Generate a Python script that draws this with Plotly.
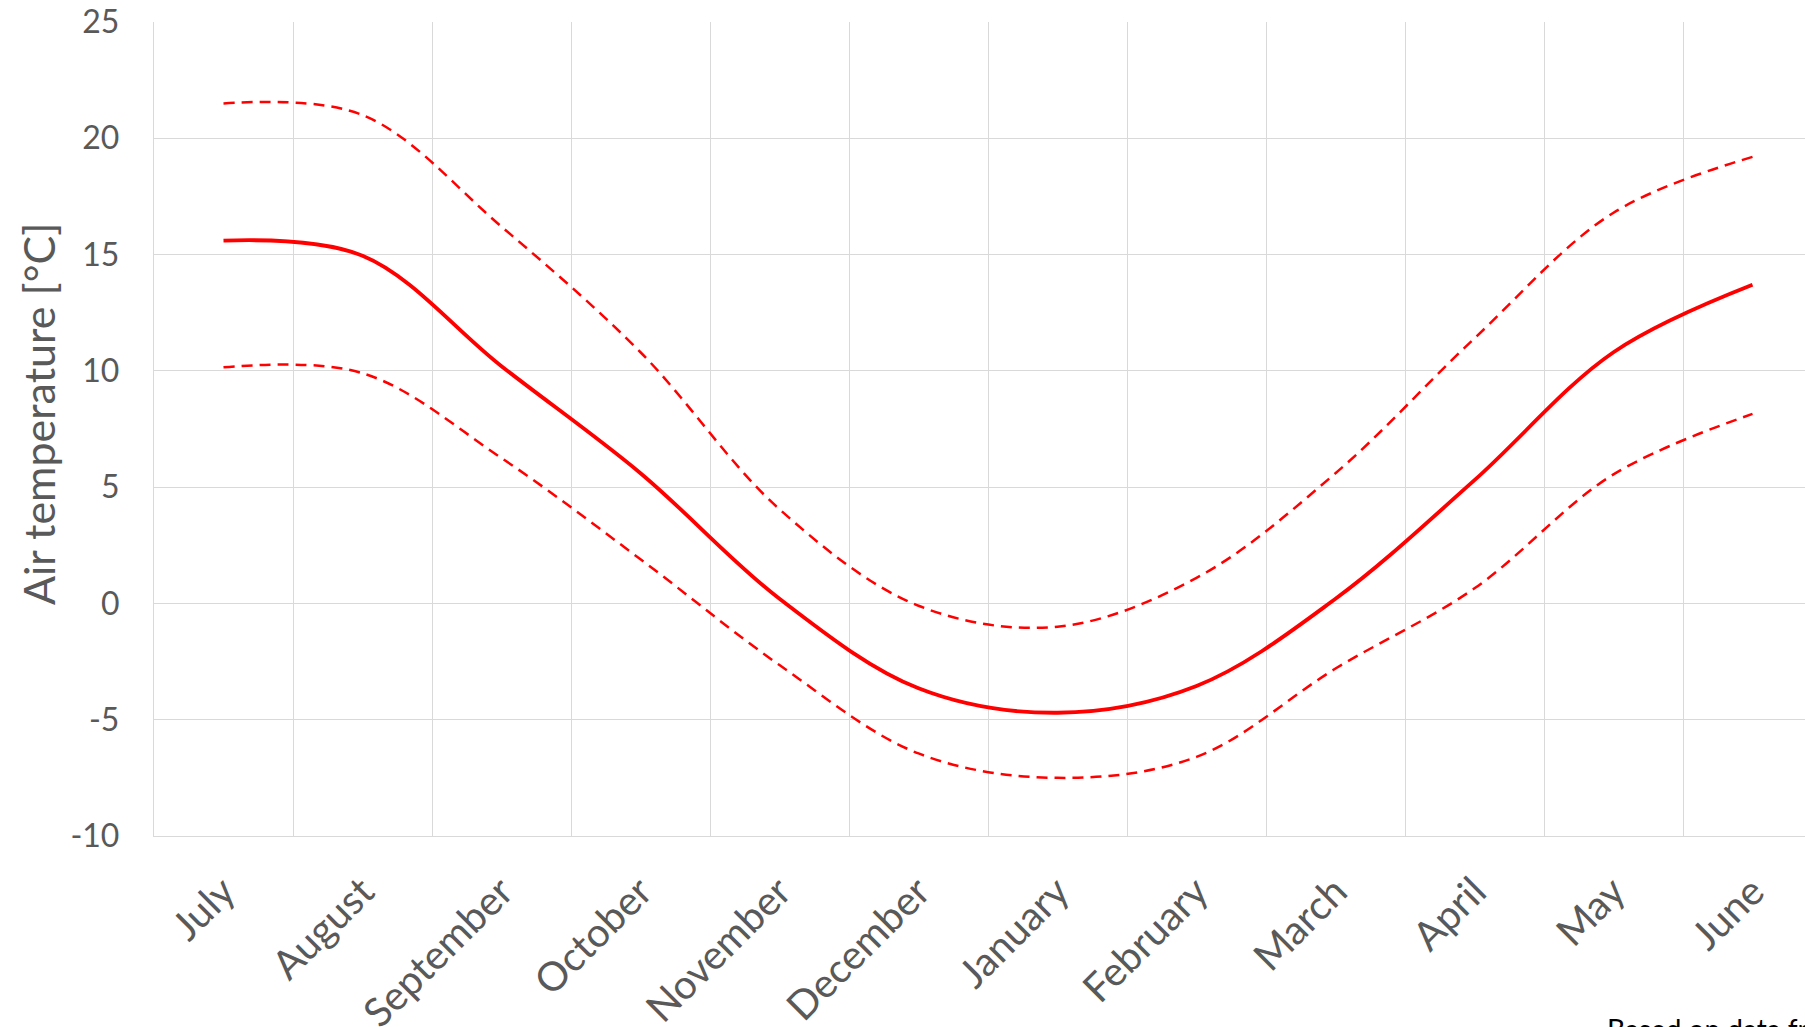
import plotly.graph_objects as go

months = ["July", "August", "September", "October", "November", "December",
          "January", "February", "March", "April", "May", "June"]
mean_temp = [15.6, 14.95, 10.2, 5.6, 0.2, -3.65, -4.7, -3.55, 0.2, 5.3, 10.8, 13.7]
upper_temp = [21.5, 21.0, 16.2, 10.8, 4.05, -0.1, -1.0, 1.1, 5.6, 11.4, 16.8, 19.2]
lower_temp = [10.15, 9.9, 6.25, 1.9, -2.65, -6.45, -7.5, -6.6, -2.8, 0.65, 5.55, 8.15]
y_ticks = [-10, -5, 0, 5, 10, 15, 20, 25]
y_tick_text = ["-10", "-5", "0", "5", "10", "15", "20", "25"]

W, H = 1805, 1027
ML, MR, MT, MB = 154, 0, 22, 191
FONT = "Lato"
GRAY = "#595959"
GRID = "#d9d9d9"

fig = go.Figure()
fig.add_trace(go.Scatter(x=months, y=upper_temp, mode="lines",
                         line=dict(color="#ff0000", width=2.5, dash="11px,7px", shape="spline", smoothing=1.0),
                         showlegend=False))
fig.add_trace(go.Scatter(x=months, y=lower_temp, mode="lines",
                         line=dict(color="#ff0000", width=2.5, dash="11px,7px", shape="spline", smoothing=1.0),
                         showlegend=False))
fig.add_trace(go.Scatter(x=months, y=mean_temp, mode="lines",
                         line=dict(color="#ff0000", width=3.8, shape="spline", smoothing=1.0),
                         showlegend=False))

pw = W - ML - MR
ph = H - MT - MB

fig.update_layout(
    width=W, height=H,
    margin=dict(l=ML, r=MR, t=MT, b=MB, pad=0, autoexpand=False),
    paper_bgcolor="white", plot_bgcolor="white",
    font=dict(family=FONT, color=GRAY, size=32),
    xaxis=dict(type="category", categoryorder="array", categoryarray=months,
               range=[-0.5, -0.5 + pw / 139.0], tickson="boundaries",
               showgrid=True, gridcolor=GRID, gridwidth=1.3,
               showline=True, linecolor=GRID, linewidth=1.3, automargin=False,
               ticks="", tickangle=-45, ticklabelstandoff=15,
               tickfont=dict(family=FONT, size=40, color=GRAY)),
    yaxis=dict(range=[-10, 25], tickvals=y_ticks, ticktext=y_tick_text,
               showgrid=True, gridcolor=GRID, gridwidth=1.3,
               showline=True, linecolor=GRID, linewidth=1.3, zeroline=False, automargin=False,
               ticks="", ticklabelstandoff=27,
               tickfont=dict(family=FONT, size=32, color=GRAY)),
    annotations=[
        dict(text="Air temperature [°C]", xref="paper", yref="paper",
             x=(38 - ML) / pw, y=(MT + ph - 414) / ph, textangle=-90,
             showarrow=False, xanchor="center", yanchor="middle",
             font=dict(family=FONT, size=43, color=GRAY)),
        dict(text="Based on data from", xref="paper", yref="paper",
             x=(1605 - ML) / pw, y=(MT + ph - 1010) / ph, xanchor="left", yanchor="top",
             showarrow=False, font=dict(family=FONT, size=28, color="black")),
    ],
)

fig.write_html("out.html", config={"displayModeBar": False},
               post_script="document.body.style.margin='0';document.body.style.overflow='hidden';")
